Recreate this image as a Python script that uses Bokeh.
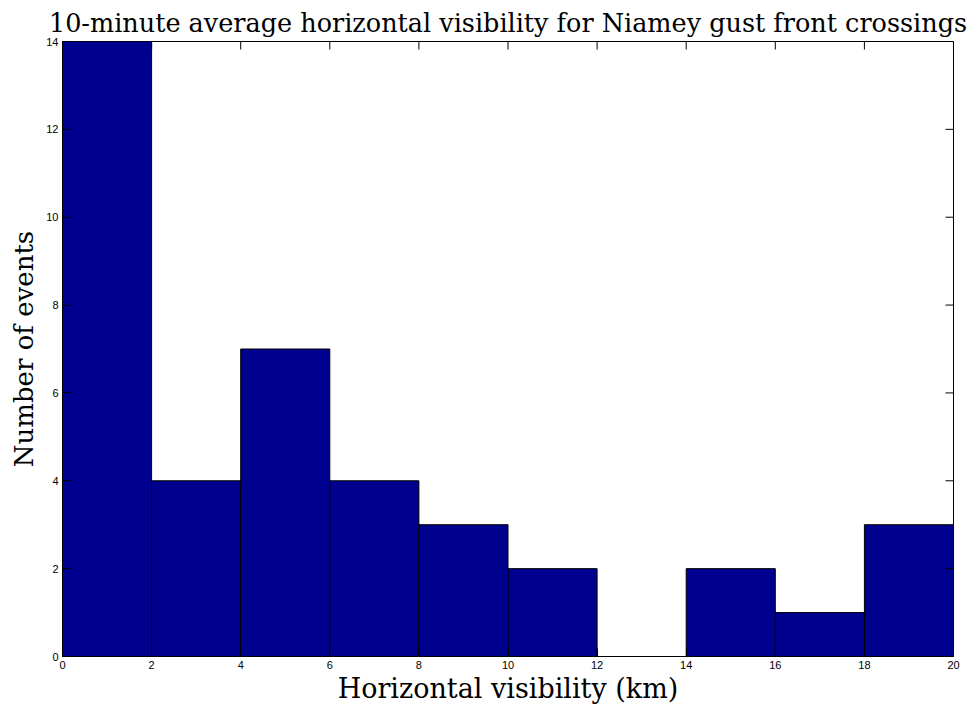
from bokeh.plotting import figure
from bokeh.models import Range1d, FixedTicker, ColumnDataSource
from bokeh.embed import file_html
from bokeh.resources import INLINE

bin_left = [0, 2, 4, 6, 8, 10, 12, 14, 16, 18]
bin_right = [2, 4, 6, 8, 10, 12, 14, 16, 18, 20]
counts = [14, 4, 7, 4, 3, 2, 0, 2, 1, 3]
x_ticks = [0, 2, 4, 6, 8, 10, 12, 14, 16, 18, 20]
y_ticks = [0, 2, 4, 6, 8, 10, 12, 14]

X0, X1 = 0, 20
Y0, Y1 = 0, 14
W, H = 979, 713
BL, BR, BT, BB = 62, 26, 41, 57
TICK = 8

src = ColumnDataSource(dict(left=bin_left, right=bin_right, top=counts, bottom=[0] * len(counts)))

p = figure(width=W, height=H, output_backend="svg", toolbar_location=None,
           x_range=Range1d(X0, X1), y_range=Range1d(Y0, Y1),
           title="10-minute average horizontal visibility for Niamey gust front crossings",
           min_border_left=BL, min_border_right=BR, min_border_top=BT, min_border_bottom=BB)

p.quad(left="left", right="right", top="top", bottom="bottom", source=src,
       fill_color="#00008F", line_color="black", line_width=1)

# mirrored ticks on top and right edges (MATLAB box style)
frame_w = W - BL - BR
frame_h = H - BT - BB
ty = TICK * (Y1 - Y0) / frame_h
tx = TICK * (X1 - X0) / frame_w
p.segment(x0=x_ticks, x1=x_ticks, y0=[Y1] * len(x_ticks), y1=[Y1 - ty] * len(x_ticks),
          line_color="black", line_width=1)
p.segment(x0=[X1] * len(y_ticks), x1=[X1 - tx] * len(y_ticks), y0=y_ticks, y1=y_ticks,
          line_color="black", line_width=1)

serif = "DejaVu Serif"
p.title.text_font = serif
p.title.text_font_size = "25.5px"
p.title.text_font_style = "normal"
p.title.text_color = "black"
p.title.align = "center"
p.title.standoff = 8

p.grid.visible = False
p.outline_line_color = "black"
p.outline_line_width = 1
p.background_fill_color = "white"
p.border_fill_color = "white"

for ax in p.xaxis:
    ax.ticker = FixedTicker(ticks=x_ticks)
    ax.axis_label = "Horizontal visibility (km)"
for ax in p.yaxis:
    ax.ticker = FixedTicker(ticks=y_ticks)
    ax.axis_label = "Number of events"

for ax in list(p.xaxis) + list(p.yaxis):
    ax.major_tick_in = TICK
    ax.major_tick_out = 0
    ax.minor_tick_in = 0
    ax.minor_tick_out = 0
    ax.axis_line_color = "black"
    ax.major_tick_line_color = "black"
    ax.major_label_text_font = "Liberation Sans"
    ax.major_label_text_font_size = "11px"
    ax.major_label_text_color = "black"
    ax.axis_label_text_font = serif
    ax.axis_label_text_font_style = "normal"
    ax.axis_label_text_color = "black"
    ax.major_label_standoff = 4

p.xaxis.axis_label_text_font_size = "27px"
p.yaxis.axis_label_text_font_size = "26px"
p.xaxis.axis_label_standoff = 1
p.yaxis.axis_label_standoff = 4

open("out.html", "w").write(file_html(p, INLINE))
